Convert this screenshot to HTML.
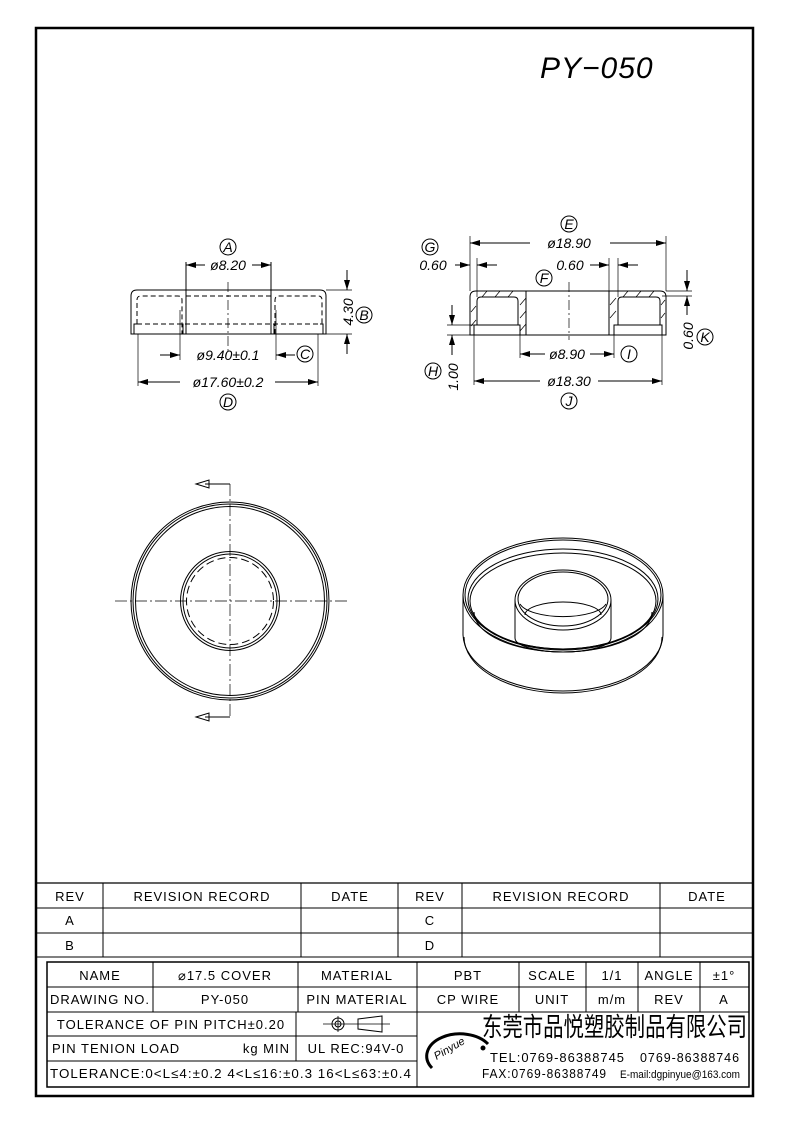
<!DOCTYPE html>
<html><head><meta charset="utf-8"><style>
html,body{margin:0;padding:0;background:#fff}
svg{display:block}
text{font-family:"Liberation Sans",sans-serif}
.t{font-family:"Liberation Sans","Noto Sans CJK SC",sans-serif;font-size:13px;letter-spacing:1px}
.d{font-style:italic;font-size:14px}
</style></head><body>
<svg width="793" height="1123" viewBox="0 0 793 1123" xmlns="http://www.w3.org/2000/svg">
<defs>
<marker id="a" markerWidth="10" markerHeight="6" refX="10" refY="3" orient="auto" markerUnits="userSpaceOnUse"><path d="M0,0 L10,3 L0,6 z" fill="#000"/></marker>
</defs>
<g fill="none" stroke="#000">
<rect x="36" y="28" width="717" height="1068" stroke-width="2.5"/>
<line x1="36" y1="883" x2="753" y2="883" stroke-width="1.2"/>
<line x1="36" y1="908" x2="753" y2="908"/>
<line x1="36" y1="933" x2="753" y2="933"/>
<line x1="36" y1="957" x2="753" y2="957"/>
<line x1="103" y1="883" x2="103" y2="957"/>
<line x1="301" y1="883" x2="301" y2="957"/>
<line x1="398" y1="883" x2="398" y2="957"/>
<line x1="462" y1="883" x2="462" y2="957"/>
<line x1="660" y1="883" x2="660" y2="957"/>
<rect x="47" y="962" width="702" height="125" stroke-width="1.5"/>
<line x1="47" y1="987" x2="749" y2="987"/>
<line x1="47" y1="1012" x2="749" y2="1012"/>
<line x1="47" y1="1036" x2="417" y2="1036"/>
<line x1="47" y1="1061" x2="417" y2="1061"/>
<line x1="153" y1="962" x2="153" y2="1012"/>
<line x1="298" y1="962" x2="298" y2="1012"/>
<line x1="296" y1="1012" x2="296" y2="1061"/>
<line x1="417" y1="962" x2="417" y2="1087"/>
<line x1="519" y1="962" x2="519" y2="1012"/>
<line x1="586" y1="962" x2="586" y2="1012"/>
<line x1="638" y1="962" x2="638" y2="1012"/>
<line x1="700" y1="962" x2="700" y2="1012"/>
<line x1="323" y1="1024" x2="390" y2="1024" stroke-width="0.8"/>
<line x1="338" y1="1016" x2="338" y2="1032" stroke-width="0.8"/>
<circle cx="338" cy="1024" r="6"/><circle cx="338" cy="1024" r="3"/>
<path d="M358,1019 L382,1016 L382,1032 L358,1029 z"/>
<path d="M432,1068 A30,20 0 0 1 488,1044" stroke-width="3"/>
<circle cx="483" cy="1048" r="2" fill="#000"/>

<g stroke-width="1">
<path d="M131,334 L131,296 Q131,290 137,290 L320,290 Q326,290 326,296 L326,334 Z"/>
<line x1="186" y1="262" x2="186" y2="334"/>
<line x1="271" y1="262" x2="271" y2="334"/>
<path d="M134,334 V324 H137 M181,324 H183 V334 M274,334 V324 H277 M320,324 H323 V334"/>
<g stroke-dasharray="5,3">
<path d="M137,324 V300 Q137,296 141,296 H178 Q182,296 182,300 V334"/>
<path d="M275,334 V300 Q275,296 279,296 H318 Q322,296 322,300 V324"/>
<line x1="186" y1="296" x2="271" y2="296"/>
<line x1="137" y1="324" x2="322" y2="324"/>
</g>
<line x1="228" y1="282" x2="228" y2="354" stroke-width="0.7" stroke-dasharray="10,3,2,3"/>
<line x1="205" y1="265" x2="186" y2="265" marker-end="url(#a)"/>
<line x1="252" y1="265" x2="271" y2="265" marker-end="url(#a)"/>
<line x1="326" y1="290" x2="352" y2="290" stroke-width="0.7"/>
<line x1="326" y1="334" x2="352" y2="334" stroke-width="0.7"/>
<line x1="347" y1="270" x2="347" y2="290" marker-end="url(#a)"/>
<line x1="347" y1="354" x2="347" y2="334" marker-end="url(#a)"/>
<line x1="180" y1="310" x2="180" y2="360" stroke-width="0.7"/>
<line x1="276" y1="310" x2="276" y2="360" stroke-width="0.7"/>
<line x1="160" y1="355" x2="180" y2="355" marker-end="url(#a)"/>
<line x1="295" y1="355" x2="276" y2="355" marker-end="url(#a)"/>
<line x1="138" y1="334" x2="138" y2="386" stroke-width="0.7"/>
<line x1="318" y1="334" x2="318" y2="386" stroke-width="0.7"/>
<line x1="180" y1="382" x2="138" y2="382" marker-end="url(#a)"/>
<line x1="275" y1="382" x2="318" y2="382" marker-end="url(#a)"/>
<circle cx="228" cy="247" r="8"/><circle cx="364" cy="315" r="8"/>
<circle cx="305" cy="354" r="8"/><circle cx="228" cy="402" r="8"/>
</g>

<g stroke-width="1">
<path d="M470,335 V297 Q470,291 476,291 H660 Q666,291 666,297 V335 Z"/>
<path d="M477,325 V301 Q477,297 481,297 H514 Q518,297 518,301 V325"/>
<path d="M474,335 V325 H520 V335"/>
<line x1="526" y1="291" x2="526" y2="335"/>
<line x1="609" y1="291" x2="609" y2="335"/>
<path d="M618,325 V301 Q618,297 622,297 H656 Q660,297 660,301 V325"/>
<path d="M614,335 V325 H662 V335"/>
<g stroke-width="0.7">
<path d="M487,291 L482,297 M500,291 L495,297 M513,291 L508,297 M520,305 L526,298 M520,318 L526,311 M520,331 L526,324 M471,312 L476,306 M471,326 L476,320"/>
<path d="M628,291 L623,297 M641,291 L636,297 M654,291 L649,297 M610,305 L616,298 M610,318 L616,311 M661,305 L665,300 M661,318 L665,313"/>
</g>
<line x1="569" y1="282" x2="569" y2="340" stroke-width="0.7" stroke-dasharray="10,3,2,3"/>
<line x1="470" y1="236" x2="470" y2="291" stroke-width="0.7"/>
<line x1="666" y1="236" x2="666" y2="291" stroke-width="0.7"/>
<line x1="530" y1="243" x2="470" y2="243" marker-end="url(#a)"/>
<line x1="610" y1="243" x2="666" y2="243" marker-end="url(#a)"/>
<line x1="477" y1="258" x2="477" y2="297" stroke-width="0.7"/>
<line x1="455" y1="265" x2="470" y2="265" marker-end="url(#a)"/>
<line x1="497" y1="265" x2="477" y2="265" marker-end="url(#a)"/>
<line x1="609" y1="258" x2="609" y2="291" stroke-width="0.7"/>
<line x1="618" y1="258" x2="618" y2="297" stroke-width="0.7"/>
<line x1="590" y1="265" x2="609" y2="265" marker-end="url(#a)"/>
<line x1="638" y1="265" x2="618" y2="265" marker-end="url(#a)"/>
<line x1="666" y1="291" x2="692" y2="291" stroke-width="0.7"/>
<line x1="662" y1="296" x2="692" y2="296" stroke-width="0.7"/>
<line x1="687" y1="270" x2="687" y2="291" marker-end="url(#a)"/>
<line x1="687" y1="315" x2="687" y2="296" marker-end="url(#a)"/>
<line x1="447" y1="325" x2="474" y2="325" stroke-width="0.7"/>
<line x1="447" y1="335" x2="470" y2="335" stroke-width="0.7"/>
<line x1="452" y1="305" x2="452" y2="325" marker-end="url(#a)"/>
<line x1="452" y1="355" x2="452" y2="335" marker-end="url(#a)"/>
<line x1="520" y1="335" x2="520" y2="358" stroke-width="0.7"/>
<line x1="614" y1="335" x2="614" y2="358" stroke-width="0.7"/>
<line x1="545" y1="354" x2="520" y2="354" marker-end="url(#a)"/>
<line x1="590" y1="354" x2="614" y2="354" marker-end="url(#a)"/>
<line x1="474" y1="335" x2="474" y2="385" stroke-width="0.7"/>
<line x1="662" y1="335" x2="662" y2="385" stroke-width="0.7"/>
<line x1="540" y1="381" x2="474" y2="381" marker-end="url(#a)"/>
<line x1="598" y1="381" x2="662" y2="381" marker-end="url(#a)"/>
<circle cx="569" cy="224" r="8"/><circle cx="430" cy="247" r="8"/>
<circle cx="544" cy="278" r="8"/><circle cx="705" cy="337" r="8"/>
<circle cx="433" cy="371" r="8"/><circle cx="629" cy="354" r="8"/>
<circle cx="569" cy="401" r="8"/>
</g>

<g stroke-width="1">
<circle cx="230" cy="601" r="99"/><circle cx="230" cy="601" r="97"/><circle cx="230" cy="601" r="94.5"/>
<circle cx="230" cy="601" r="49.5"/><circle cx="230" cy="601" r="47"/>
<circle cx="230" cy="601" r="43.5" stroke-dasharray="8,4"/>
<line x1="115" y1="601" x2="350" y2="601" stroke-width="0.7" stroke-dasharray="12,3,2,3"/>
<line x1="230" y1="484" x2="230" y2="717" stroke-width="0.7" stroke-dasharray="12,3,2,3"/>
<path d="M230,484 H205 M230,717 H205"/>
<path d="M196,484 L209,480 L209,488 Z M196,717 L209,713 L209,721 Z"/>
</g>

<g stroke-width="1">
<ellipse cx="563" cy="595" rx="100" ry="57"/>
<ellipse cx="563" cy="595" rx="98" ry="55"/>
<ellipse cx="563" cy="599" rx="95" ry="50"/>
<ellipse cx="563" cy="601" rx="93" ry="48"/>
<path d="M463,595 V634 A100,57 0 0 0 663,634 V595"/>
<path d="M464,637 A99,56 0 0 0 662,637"/>
<path d="M474,612 A89,40 0 0 0 652,612"/>
<path d="M515,600 V638 A48,14 0 0 0 611,638 V600"/>
<ellipse cx="563" cy="600" rx="48" ry="30"/>
<ellipse cx="563" cy="599" rx="45" ry="27"/>
<path d="M525,615 A38,13 0 0 1 601,615"/>
<path d="M520,604 A44,16 0 0 0 606,604"/>
</g>
</g>

<g fill="#000">
<text x="540" y="78" font-size="30" font-style="italic" letter-spacing="1">PY−050</text>
<text x="228" y="252" class="d" text-anchor="middle" font-size="13">A</text>
<text x="228" y="270" class="d" text-anchor="middle">ø8.20</text>
<text x="353" y="312" class="d" text-anchor="middle" transform="rotate(-90 353 312)">4.30</text>
<text x="364" y="320" class="d" text-anchor="middle" font-size="13">B</text>
<text x="228" y="360" class="d" text-anchor="middle">ø9.40±0.1</text>
<text x="305" y="359" class="d" text-anchor="middle" font-size="13">C</text>
<text x="228" y="387" class="d" text-anchor="middle">ø17.60±0.2</text>
<text x="228" y="407" class="d" text-anchor="middle" font-size="13">D</text>
<text x="569" y="229" class="d" text-anchor="middle" font-size="13">E</text>
<text x="569" y="248" class="d" text-anchor="middle">ø18.90</text>
<text x="430" y="252" class="d" text-anchor="middle" font-size="13">G</text>
<text x="433" y="270" class="d" text-anchor="middle">0.60</text>
<text x="570" y="270" class="d" text-anchor="middle">0.60</text>
<text x="544" y="283" class="d" text-anchor="middle" font-size="13">F</text>
<text x="693" y="336" class="d" text-anchor="middle" transform="rotate(-90 693 336)">0.60</text>
<text x="705" y="342" class="d" text-anchor="middle" font-size="13">K</text>
<text x="458" y="377" class="d" text-anchor="middle" transform="rotate(-90 458 377)">1.00</text>
<text x="433" y="376" class="d" text-anchor="middle" font-size="13">H</text>
<text x="567" y="359" class="d" text-anchor="middle">ø8.90</text>
<text x="629" y="359" class="d" text-anchor="middle" font-size="13">I</text>
<text x="569" y="386" class="d" text-anchor="middle">ø18.30</text>
<text x="569" y="406" class="d" text-anchor="middle" font-size="13">J</text>

<g class="t" text-anchor="middle">
<text x="70" y="901">REV</text><text x="202" y="901">REVISION RECORD</text>
<text x="350" y="901">DATE</text><text x="430" y="901">REV</text>
<text x="561" y="901">REVISION RECORD</text><text x="707" y="901">DATE</text>
<text x="70" y="925">A</text><text x="430" y="925">C</text>
<text x="70" y="950">B</text><text x="430" y="950">D</text>
<text x="100" y="980">NAME</text><text x="225" y="980">⌀17.5 COVER</text>
<text x="357" y="980">MATERIAL</text><text x="468" y="980">PBT</text>
<text x="552" y="980">SCALE</text><text x="612" y="980">1/1</text>
<text x="669" y="980">ANGLE</text><text x="724" y="980">±1°</text>
<text x="100" y="1004">DRAWING NO.</text><text x="225" y="1004">PY-050</text>
<text x="357" y="1004">PIN MATERIAL</text><text x="468" y="1004">CP WIRE</text>
<text x="552" y="1004">UNIT</text><text x="612" y="1004">m/m</text>
<text x="669" y="1004">REV</text><text x="724" y="1004">A</text>
<text x="171" y="1029">TOLERANCE OF PIN PITCH±0.20</text>
<text x="356" y="1053">UL REC:94V-0</text>
</g>
<text x="52" y="1053" class="t">PIN TENION LOAD</text>
<text x="290" y="1053" class="t" text-anchor="end">kg MIN</text>
<text x="50" y="1078" class="t" font-size="11" letter-spacing="0" textLength="362" lengthAdjust="spacingAndGlyphs">TOLERANCE:0&lt;L≤4:±0.2  4&lt;L≤16:±0.3  16&lt;L≤63:±0.4</text>
<text x="436" y="1058" font-size="11" font-style="italic" transform="rotate(-30 440 1058)">Pinyue</text>
<text x="482" y="1036" font-family="'Noto Sans CJK SC',sans-serif" font-size="26" textLength="265" lengthAdjust="spacingAndGlyphs">东莞市品悦塑胶制品有限公司</text>
<text x="490" y="1062" class="t" font-size="11" textLength="135" lengthAdjust="spacingAndGlyphs">TEL:0769-86388745</text>
<text x="640" y="1062" class="t" font-size="11" textLength="100" lengthAdjust="spacingAndGlyphs">0769-86388746</text>
<text x="482" y="1078" class="t" font-size="11" textLength="125" lengthAdjust="spacingAndGlyphs">FAX:0769-86388749</text>
<text x="620" y="1078" font-size="11" letter-spacing="0" textLength="120" lengthAdjust="spacingAndGlyphs">E-mail:dgpinyue@163.com</text>
</g>
</svg>
</body></html>
